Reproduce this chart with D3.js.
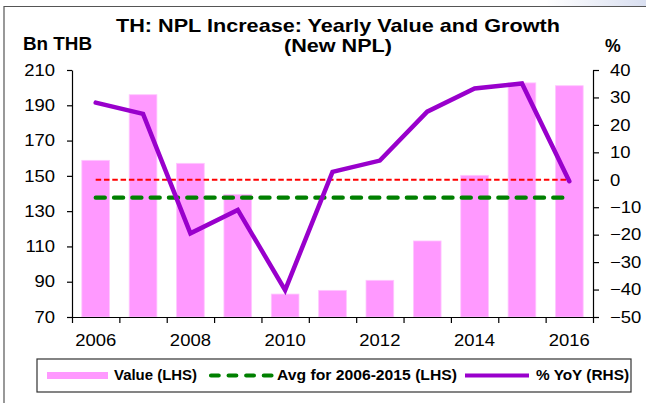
<!DOCTYPE html>
<html>
<head>
<meta charset="utf-8">
<script src="https://cdn.jsdelivr.net/npm/d3@7"></script>
<style>
  html, body { margin: 0; padding: 0; background: #fff; }
  svg { display: block; font-family: "Liberation Sans", Arial, sans-serif; }
</style>
</head>
<body>
<svg id="chart" width="646" height="403"></svg>
<script>
// ---- data ----
const years = [2006, 2007, 2008, 2009, 2010, 2011, 2012, 2013, 2014, 2015, 2016];
const values = [158.8, 196, 157.1, 139.5, 83, 85.1, 90.8, 113.1, 150.3, 202.7, 201.1]; // Bn THB (LHS)
const yoy = [28.1, 24, -19.5, -11, -40.2, 2.9, 7, 24.8, 33.3, 35.1, -0.5];              // % YoY (RHS)
const avgYears = [2006, 2015];
const zeroLine = 0; // RHS reference
const leftTicks = [70, 90, 110, 130, 150, 170, 190, 210];
const rightTicks = [-50, -40, -30, -20, -10, 0, 10, 20, 30, 40];
const xLabelYears = [2006, 2008, 2010, 2012, 2014, 2016];
const titleLines = ["TH: NPL Increase: Yearly Value and Growth", "(New NPL)"];
const legendLabels = ["Value (LHS)", "Avg for 2006-2015 (LHS)", "% YoY (RHS)"];

const svg = d3.select("#chart");
const L = 72, R = 593, T = 70, B = 317;
const pink = "#ff99ff", purple = "#9900cc", green = "#008000", red = "#ff0000";

// background decoration + frame
const defs = svg.append("defs");
const grad = defs.append("linearGradient").attr("id", "g1").attr("x1", "0").attr("x2", "1");
grad.append("stop").attr("offset", "0").attr("stop-color", "#ffffff");
grad.append("stop").attr("offset", "1").attr("stop-color", "#d9dff0");
svg.append("polygon").attr("points", "548,0 646,0 646,6 545,6").attr("fill", "url(#g1)");
svg.append("path").attr("d", "M4,403 V6.5 H646").attr("fill", "none").attr("stroke", "#555").attr("stroke-width", 1.2);

const x = d3.scaleBand().domain(years).range([L, R]).padding(0);
const xb = d3.scaleLinear().domain([0, years.length]).range([L, R]);
const yL = d3.scaleLinear().domain([70, 210]).range([B, T]);
const yR = d3.scaleLinear().domain([-50, 40]).range([B, T]);
const barW = x.bandwidth() * 0.585;
const cx = d => x(d) + x.bandwidth() / 2;

// bars
svg.append("g").selectAll("rect").data(years).join("rect")
  .attr("x", d => cx(d) - barW / 2)
  .attr("width", barW)
  .attr("y", (d, i) => yL(values[i]))
  .attr("height", (d, i) => B - yL(values[i]))
  .attr("fill", pink)
  .attr("stroke", "#ffc8ff").attr("stroke-width", 0.8);

// zero reference (red dashed)
svg.append("line")
  .attr("x1", cx(years[0])).attr("x2", cx(years[years.length - 1]))
  .attr("y1", yR(zeroLine)).attr("y2", yR(zeroLine))
  .attr("stroke", red).attr("stroke-width", 2).attr("stroke-dasharray", "5.5,2.8");

// average line
const avgVal = d3.mean(values.filter((v, i) => years[i] >= avgYears[0] && years[i] <= avgYears[1]));
svg.append("line")
  .attr("x1", cx(years[0])).attr("x2", cx(years[years.length - 1]))
  .attr("y1", yL(avgVal)).attr("y2", yL(avgVal))
  .attr("stroke", green).attr("stroke-width", 4.2).attr("stroke-linecap", "round")
  .attr("stroke-dasharray", "9.2,9.1");

// yoy line
const line = d3.line().x((d, i) => cx(years[i])).y(d => yR(d));
svg.append("path").datum(yoy).attr("d", line)
  .attr("fill", "none").attr("stroke", purple).attr("stroke-width", 4.5)
  .attr("stroke-linejoin", "miter").attr("stroke-linecap", "round");

// axes
function stretchText(g, dx, sx) {
  g.selectAll("text").each(function () {
    const t = d3.select(this);
    t.attr("transform", `translate(${dx},0) scale(${sx},1)`).attr("x", 0);
  });
}
const axL = svg.append("g").attr("transform", `translate(${L},0)`)
  .call(d3.axisLeft(yL).tickValues(leftTicks).tickSize(5).tickSizeOuter(0).tickFormat(d3.format("d")));
const axR = svg.append("g").attr("transform", `translate(${R},0)`)
  .call(d3.axisRight(yR).tickValues(rightTicks).tickSize(6).tickSizeOuter(0).tickFormat(d3.format("d")));
const axB = svg.append("g").attr("transform", `translate(0,${B})`)
  .call(d3.axisBottom(xb).tickValues(d3.range(years.length + 1)).tickSize(6).tickSizeOuter(0).tickFormat(""));
const axBL = svg.append("g").attr("transform", `translate(0,${B})`)
  .call(d3.axisBottom(x).tickValues(xLabelYears).tickSize(0).tickPadding(17).tickFormat(d3.format("d")));
axBL.select(".domain").remove();
[axL, axR, axB, axBL].forEach(g => {
  g.selectAll("text").attr("font-size", 16.5).attr("fill", "#000").attr("font-family", "Liberation Sans, Arial, sans-serif");
  g.selectAll("line, path").attr("stroke", "#000").attr("stroke-width", 1.2);
});
stretchText(axL, -17, 1.12);
stretchText(axR, 17, 1.12);
axBL.selectAll("text").attr("transform", "scale(1.12,1)").each(function (d) {
  d3.select(this).attr("x", 0);
});
// keep bottom labels centered after scaling
axBL.selectAll(".tick").each(function () {
  d3.select(this).select("text").attr("transform", "scale(1.12,1)");
});

// titles
const title = svg.append("g").attr("font-weight", "bold").attr("font-size", 17.7).attr("text-anchor", "middle");
title.append("text").attr("x", 338).attr("y", 31.7).attr("textLength", 444).attr("lengthAdjust", "spacingAndGlyphs").text(titleLines[0]);
title.append("text").attr("x", 338).attr("y", 51.5).attr("textLength", 108).attr("lengthAdjust", "spacingAndGlyphs").text(titleLines[1]);
svg.append("text").attr("x", 23).attr("y", 50).attr("font-weight", "bold").attr("font-size", 17.7)
  .attr("textLength", 69).attr("lengthAdjust", "spacingAndGlyphs").text("Bn THB");
svg.append("text").attr("x", 605).attr("y", 51.5).attr("font-weight", "bold").attr("font-size", 17.7).text("%");

// legend
const lg = svg.append("g");
lg.append("rect").attr("x", 37).attr("y", 359).attr("width", 594).attr("height", 33)
  .attr("fill", "#fff").attr("stroke", "#333").attr("stroke-width", 1.2);
lg.append("rect").attr("x", 47).attr("y", 372).attr("width", 61).attr("height", 7).attr("fill", pink);
lg.append("line").attr("x1", 211).attr("x2", 272).attr("y1", 375.5).attr("y2", 375.5)
  .attr("stroke", green).attr("stroke-width", 4.2).attr("stroke-linecap", "round").attr("stroke-dasharray", "7.7,9.9");
lg.append("line").attr("x1", 465).attr("x2", 529).attr("y1", 375.5).attr("y2", 375.5)
  .attr("stroke", purple).attr("stroke-width", 4);
const lx = [114, 277, 536], lw = [83, 180, 93];
lg.selectAll("text.lt").data(legendLabels).join("text").attr("class", "lt")
  .attr("x", (d, i) => lx[i]).attr("y", 380).attr("font-weight", "bold").attr("font-size", 14)
  .attr("textLength", (d, i) => lw[i]).attr("lengthAdjust", "spacingAndGlyphs").text(d => d);
</script>
</body>
</html>
